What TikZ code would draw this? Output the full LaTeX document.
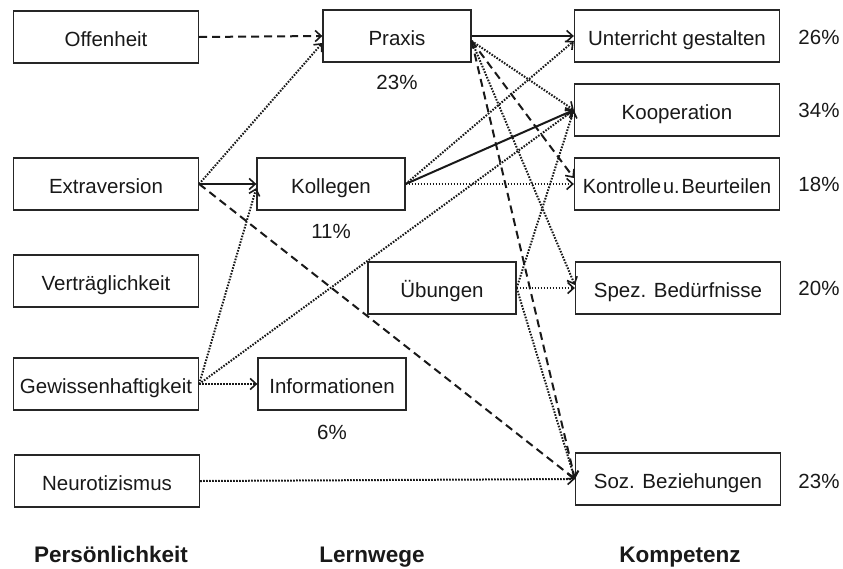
\documentclass[tikz,border=0pt]{standalone}
\usepackage{fontspec}
\setmainfont{Liberation Sans}
\usetikzlibrary{arrows.meta,calc}
\begin{document}
\begin{tikzpicture}[x=1pt,y=-1pt,
  box/.style={draw=black!85,line width=1.3pt,minimum height=52pt,inner sep=0pt,
    text height=19.5pt,text depth=0pt,font=\fontsize{20.5}{24}\selectfont,text=black!90},
  lbox/.style={box,minimum width=185pt},
  mbox/.style={box,minimum width=148pt},
  rbox/.style={box,minimum width=205pt},
  pct/.style={inner sep=0pt,font=\fontsize{20.5}{24}\selectfont,text=black!90},
  ttl/.style={inner sep=0pt,anchor=base,font=\fontsize{22.5}{26}\selectfont\bfseries,text=black!90},
  arr/.style={-{Straight Barb[length=6pt,width=11pt,line width=1.6pt]},line width=2pt,draw=black!90},
  dot/.style={arr,dash pattern=on 1.6pt off 1.4pt},
  dsh/.style={arr,dash pattern=on 8pt off 5pt},
  sol/.style={arr}]
\useasboundingbox[fill=white] (0,0) rectangle (843,568);

% Persoenlichkeit
\node[lbox] (off) at (106,37) {Offenheit};
\node[lbox] (ext) at (106,184) {Extraversion};
\node[lbox] (ver) at (106,281) {Verträglichkeit};
\node[lbox] (gew) at (106,384) {Gewissenhaftigkeit};
\node[lbox] (neu) at (107,481) {Neurotizismus};

% Lernwege
\node[mbox] (pra) at (397,36) {Praxis};
\node[mbox] (kol) at (331,184) {Kollegen};
\node[mbox] (ueb) at (442,288) {Übungen};
\node[mbox] (inf) at (332,384) {Informationen};

% Kompetenz
\node[rbox] (unt) at (677,36) {Unterricht gestalten};
\node[rbox] (koo) at (677,110) {Kooperation};
\node[rbox] (kon) at (677,184) {\scalebox{0.97}[1]{Kontrolle\hspace{2pt}u.\hspace{2pt}Beurteilen}};
\node[rbox] (spe) at (678,288) {Spez. Bedürfnisse};
\node[rbox] (soz) at (678,479) {Soz. Beziehungen};

% percentages
\node[pct] (ppra) at (397,82) {23\%};
\node[pct] (pkol) at (331,231) {11\%};
\node[pct] (pinf) at (332,432) {6\%};
\node[pct] (punt) at (819,37) {26\%};
\node[pct] (pkoo) at (819,110) {34\%};
\node[pct] (pkon) at (819,184) {18\%};
\node[pct] (pspe) at (819,288) {20\%};
\node[pct] (psoz) at (819,481) {23\%};

% titles
\node[ttl] (t1) at (111,562) {Persönlichkeit};
\node[ttl] (t2) at (372,562) {Lernwege};
\node[ttl] (t3) at (680,562) {Kompetenz};

% connectors
\draw[dsh] (off.east) -- (pra.west);
\draw[dot] (ext.east) -- ([yshift=-7pt]pra.west);
\draw[sol] (ext.east) -- (kol.west);
\draw[dsh] (ext.east) -- (soz.west);
\draw[dot] (gew.east) -- ([yshift=-4pt]kol.west);
\draw[dot] (gew.east) -- (koo.west);
\draw[dot] (gew.east) -- (inf.west);
\draw[dot] (neu.east) -- (soz.west);
\draw[sol] (pra.east) -- (unt.west);
\draw[dot] ([yshift=-5pt]pra.east) -- (koo.west);
\draw[dsh] ([yshift=-5pt]pra.east) -- ([yshift=6pt]kon.west);
\draw[dot] ([yshift=-5pt]pra.east) -- ([yshift=3pt]spe.west);
\draw[dsh] ([yshift=-5pt]pra.east) -- (soz.west);
\draw[dot] (kol.east) -- ([yshift=-5pt]unt.west);
\draw[sol] (kol.east) -- (koo.west);
\draw[dot] (kol.east) -- (kon.west);
\draw[dot] (ueb.east) -- (spe.west);
\draw[dot] (ueb.east) -- (koo.west);
\draw[dot] (ueb.east) -- (soz.west);
\end{tikzpicture}
\end{document}
